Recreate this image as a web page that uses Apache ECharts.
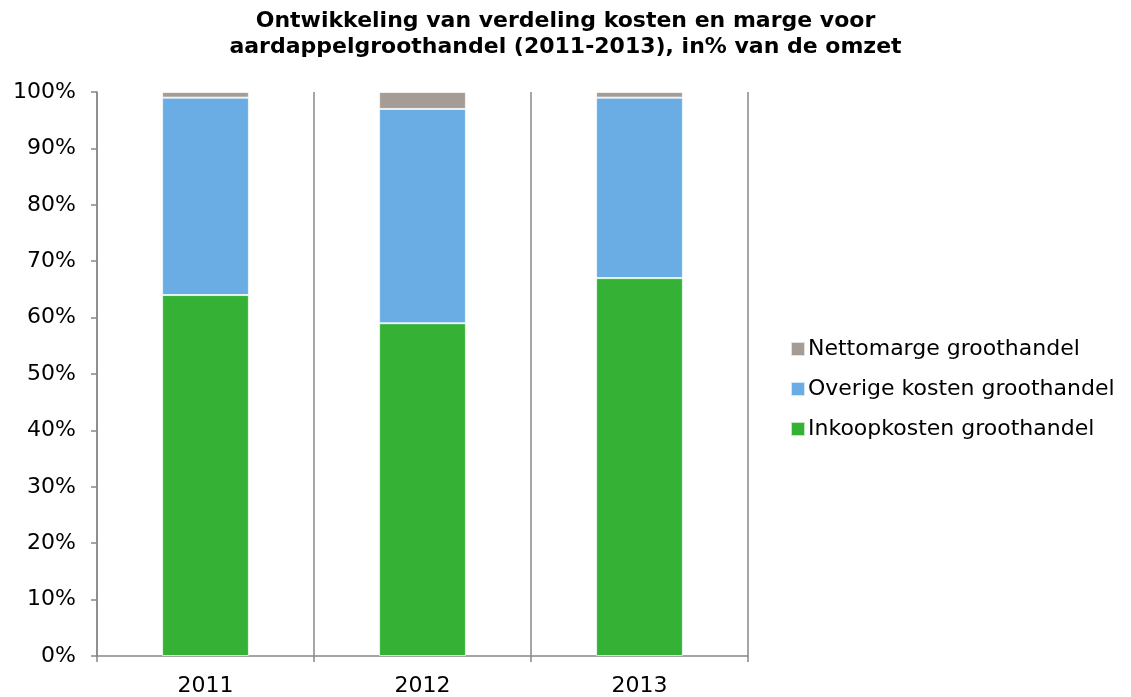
<!DOCTYPE html>
<html><head><meta charset="utf-8">
<script src="https://cdn.jsdelivr.net/npm/echarts@6/dist/echarts.min.js"></script>
<style>html,body{margin:0;padding:0;background:#fff}#c{width:1131px;height:697px}</style>
</head><body><div id="c"></div>
<script>
const categories = ['2011', '2012', '2013'];
const inkoop = [64, 59, 67];
const overige = [35, 38, 32];
const netto = [1, 3, 1];
const yTicks = [0, 10, 20, 30, 40, 50, 60, 70, 80, 90, 100];

const font = 'DejaVu Sans';
const chart = echarts.init(document.getElementById('c'));
const mk = (name, data, color) => ({
  name, type: 'bar', stack: 'a', data, barWidth: '40%',
  itemStyle: { color, borderColor: 'rgba(255,255,255,0.7)', borderWidth: 1 },
  emphasis: { disabled: true }
});
chart.setOption({
  animation: false,
  title: {
    text: 'Ontwikkeling van verdeling kosten en marge voor\naardappelgroothandel (2011-2013), in% van de omzet',
    left: 'center', top: 3,
    textStyle: { fontFamily: font, fontWeight: 'bold', fontSize: 22, color: '#000', lineHeight: 26 }
  },
  legend: {
    orient: 'vertical', left: 785, top: 333, itemGap: 18,
    itemWidth: 14, itemHeight: 14, icon: 'rect',
    data: ['Nettomarge groothandel', 'Overige kosten groothandel', 'Inkoopkosten groothandel'],
    textStyle: { fontFamily: font, fontSize: 22, color: '#000', padding: [0, 0, 0, -2] }
  },
  grid: { left: 97, right: 383, top: 92, bottom: 40, containLabel: false },
  xAxis: {
    type: 'category', data: categories,
    axisLine: { lineStyle: { color: '#888', width: 1.5 } },
    axisTick: { show: true, length: 6, lineStyle: { color: '#888', width: 1.5 } },
    splitLine: { show: true, lineStyle: { color: '#888', width: 1.5 } },
    axisLabel: { fontFamily: font, fontSize: 22, color: '#000', margin: 19 }
  },
  yAxis: {
    type: 'value', min: 0, max: 100, interval: 10,
    axisLine: { show: true, lineStyle: { color: '#888', width: 1.5 } },
    axisTick: { show: true, length: 6, lineStyle: { color: '#888', width: 1.5 } },
    splitLine: { show: false },
    axisLabel: {
      fontFamily: font, fontSize: 22, color: '#000', margin: 21,
      formatter: v => yTicks.includes(v) ? v + '%' : ''
    }
  },
  series: [
    mk('Inkoopkosten groothandel', inkoop, '#35b235'),
    mk('Overige kosten groothandel', overige, '#6aade4'),
    mk('Nettomarge groothandel', netto, '#a59c95')
  ]
});
</script></body></html>
